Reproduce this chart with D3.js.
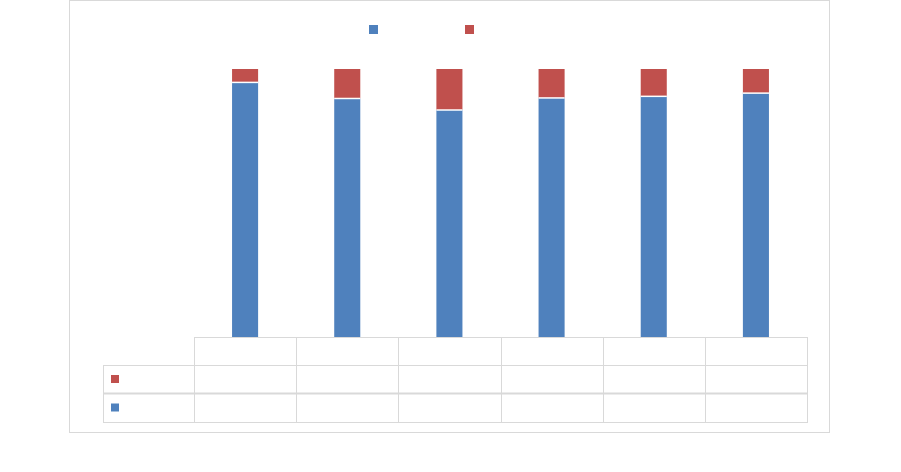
<!DOCTYPE html>
<html>
<head>
<meta charset="utf-8">
<script src="https://cdn.jsdelivr.net/npm/d3@7"></script>
<style>
  html, body { margin: 0; padding: 0; background: #fff; }
  svg { display: block; }
</style>
</head>
<body>
<svg id="chart" width="901" height="472"></svg>
<script>
// Category keys (the reference shows no readable labels)
const categories = ["1", "2", "3", "4", "5", "6"];
// Series values (percent of total)
const seriesNames = ["blue", "red"];
const blueValues = [95.0, 89.0, 84.7, 89.2, 89.8, 91.0];
const redValues  = [5.0, 11.0, 15.3, 10.8, 10.2, 9.0];
const colors = { blue: "#4f81bd", red: "#c0504d" };

const svg = d3.select("#chart");

// outer chart border
svg.append("rect")
  .attr("x", 69.5).attr("y", 0.5)
  .attr("width", 760).attr("height", 432)
  .attr("fill", "#fff").attr("stroke", "#d9d9d9").attr("stroke-width", 1);

const plotLeft = 194, plotRight = 807, plotTop = 69, plotBottom = 337;

const x = d3.scaleBand()
  .domain(categories)
  .range([plotLeft, plotRight])
  .paddingInner(0.745)
  .paddingOuter(0.3725);

const xCol = d3.scaleBand()
  .domain(categories)
  .range([plotLeft, plotRight])
  .padding(0);

const rows = categories.map((c, i) => ({ cat: c, blue: blueValues[i], red: redValues[i] }));
const stacked = d3.stack().keys(seriesNames).offset(d3.stackOffsetExpand)(rows);

const yFrac = d3.scaleLinear().domain([0, 1]).range([plotBottom, plotTop]);

svg.append("g").selectAll("g")
  .data(stacked)
  .join("g")
  .attr("fill", d => colors[d.key])
  .selectAll("rect")
  .data(d => d)
  .join("rect")
  .attr("x", d => x(d.data.cat))
  .attr("width", x.bandwidth())
  .attr("y", d => yFrac(d[1]))
  .attr("height", d => yFrac(d[0]) - yFrac(d[1]));

// white separators between stacked segments
svg.append("g").selectAll("line")
  .data(stacked[0])
  .join("line")
  .attr("x1", d => x(d.data.cat)).attr("x2", d => x(d.data.cat) + x.bandwidth())
  .attr("y1", d => yFrac(d[1])).attr("y2", d => yFrac(d[1]))
  .attr("stroke", "#fff").attr("stroke-width", 1.5);

// legend
const legendX = { blue: 369, red: 465 };
svg.append("g").selectAll("rect")
  .data(seriesNames)
  .join("rect")
  .attr("x", d => legendX[d]).attr("y", 25)
  .attr("width", 9).attr("height", 9)
  .attr("fill", d => colors[d]);

// data table
const gridColor = "#d9d9d9";
const rowY = [337, 365, 393.5, 422];
const labelLeft = 103;
const t = svg.append("g").attr("stroke", gridColor).attr("fill", "none");

t.append("line").attr("x1", plotLeft).attr("x2", plotRight).attr("y1", rowY[0] + 0.5).attr("y2", rowY[0] + 0.5).attr("stroke-width", 1);
t.append("line").attr("x1", labelLeft).attr("x2", plotRight).attr("y1", rowY[1] + 0.5).attr("y2", rowY[1] + 0.5).attr("stroke-width", 1);
t.append("line").attr("x1", labelLeft).attr("x2", plotRight).attr("y1", rowY[2]).attr("y2", rowY[2]).attr("stroke-width", 2);
t.append("line").attr("x1", labelLeft).attr("x2", plotRight).attr("y1", rowY[3] + 0.5).attr("y2", rowY[3] + 0.5).attr("stroke-width", 1);

const colEdges = categories.map(c => xCol(c)).concat([plotRight]);
t.selectAll("line.col")
  .data(colEdges)
  .join("line")
  .attr("class", "col")
  .attr("x1", d => Math.round(d) + 0.5).attr("x2", d => Math.round(d) + 0.5)
  .attr("y1", rowY[0]).attr("y2", rowY[3] + 1)
  .attr("stroke-width", 1);
t.append("line").attr("x1", labelLeft + 0.5).attr("x2", labelLeft + 0.5)
  .attr("y1", rowY[1]).attr("y2", rowY[3] + 1).attr("stroke-width", 1);

// table legend keys
const tableKeyY = { red: 375, blue: 403.5 };
svg.append("g").selectAll("rect")
  .data(["red", "blue"])
  .join("rect")
  .attr("x", 111).attr("y", d => tableKeyY[d])
  .attr("width", 8).attr("height", 8)
  .attr("fill", d => colors[d]);
</script>
</body>
</html>
